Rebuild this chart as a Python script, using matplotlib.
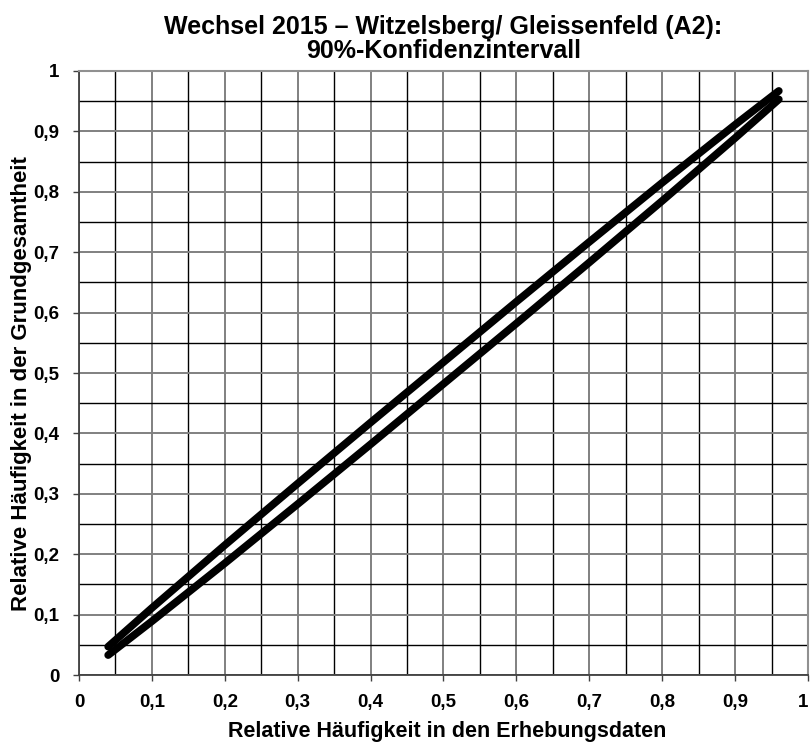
import numpy as np
import matplotlib.pyplot as plt
from matplotlib.ticker import MultipleLocator, FuncFormatter

x_vals = [0.04, 0.1, 0.2, 0.3, 0.4, 0.5, 0.6, 0.7, 0.8, 0.9, 0.96]
upper = [0.047, 0.111, 0.215, 0.317, 0.418, 0.518, 0.618, 0.717, 0.815, 0.911, 0.967]
lower = [0.033, 0.089, 0.185, 0.283, 0.382, 0.482, 0.582, 0.683, 0.785, 0.889, 0.953]
ticks = [0, 0.1, 0.2, 0.3, 0.4, 0.5, 0.6, 0.7, 0.8, 0.9, 1]
tick_labels = ["0", "0,1", "0,2", "0,3", "0,4", "0,5", "0,6", "0,7", "0,8", "0,9", "1"]

title = "Wechsel 2015 \u2013 Witzelsberg/ Gleissenfeld (A2):\n90%-Konfidenzintervall"
xlabel = "Relative Häufigkeit in den Erhebungsdaten"
ylabel = "Relative Häufigkeit in der Grundgesamtheit"

plt.rcParams['font.family'] = ['Liberation Sans', 'DejaVu Sans']

fig = plt.figure(figsize=(8.11, 7.44), dpi=100)
ax = fig.add_axes([0.0974, 0.0927, 0.8989, 0.8119])

ax.plot(x_vals, upper, color="black", lw=5.5, solid_capstyle="round")
ax.plot(x_vals, lower, color="black", lw=5.5, solid_capstyle="round")

ax.set_xlim(0, 1)
ax.set_ylim(0, 1)
ax.set_xticks(ticks, tick_labels, fontweight="bold")
ax.set_yticks(ticks, tick_labels, fontweight="bold")
ax.xaxis.set_minor_locator(MultipleLocator(0.05))
ax.yaxis.set_minor_locator(MultipleLocator(0.05))

ax.grid(which="major", color="#808080", lw=1.4)
ax.grid(which="minor", color="black", lw=1.0)
ax.set_axisbelow(True)

ax.tick_params(which="major", direction="out", length=4, width=1, color="#404040",
               labelsize=13.5)
ax.tick_params(axis="x", which="major", pad=10)
ax.tick_params(axis="y", which="major", pad=10)
ax.tick_params(which="minor", length=0)

# keep the "1" at the right edge inside the picture
ax.get_xticklabels()[-1].set_horizontalalignment("right")

for side in ["top", "right"]:
    ax.spines[side].set_color("#909090")
    ax.spines[side].set_linewidth(1.5)
for side in ["left", "bottom"]:
    ax.spines[side].set_color("#404040")
    ax.spines[side].set_linewidth(1.3)

ax.set_title(title, fontsize=18, fontweight="bold", pad=9, linespacing=1.0)
ax.set_xlabel(xlabel, fontsize=15.5, fontweight="bold")
ax.set_ylabel(ylabel, fontsize=16, fontweight="bold")
ax.xaxis.set_label_coords(0.505, -0.076)
ax.yaxis.set_label_coords(-0.065, 0.483)

fig.savefig("out.png", dpi=100)
